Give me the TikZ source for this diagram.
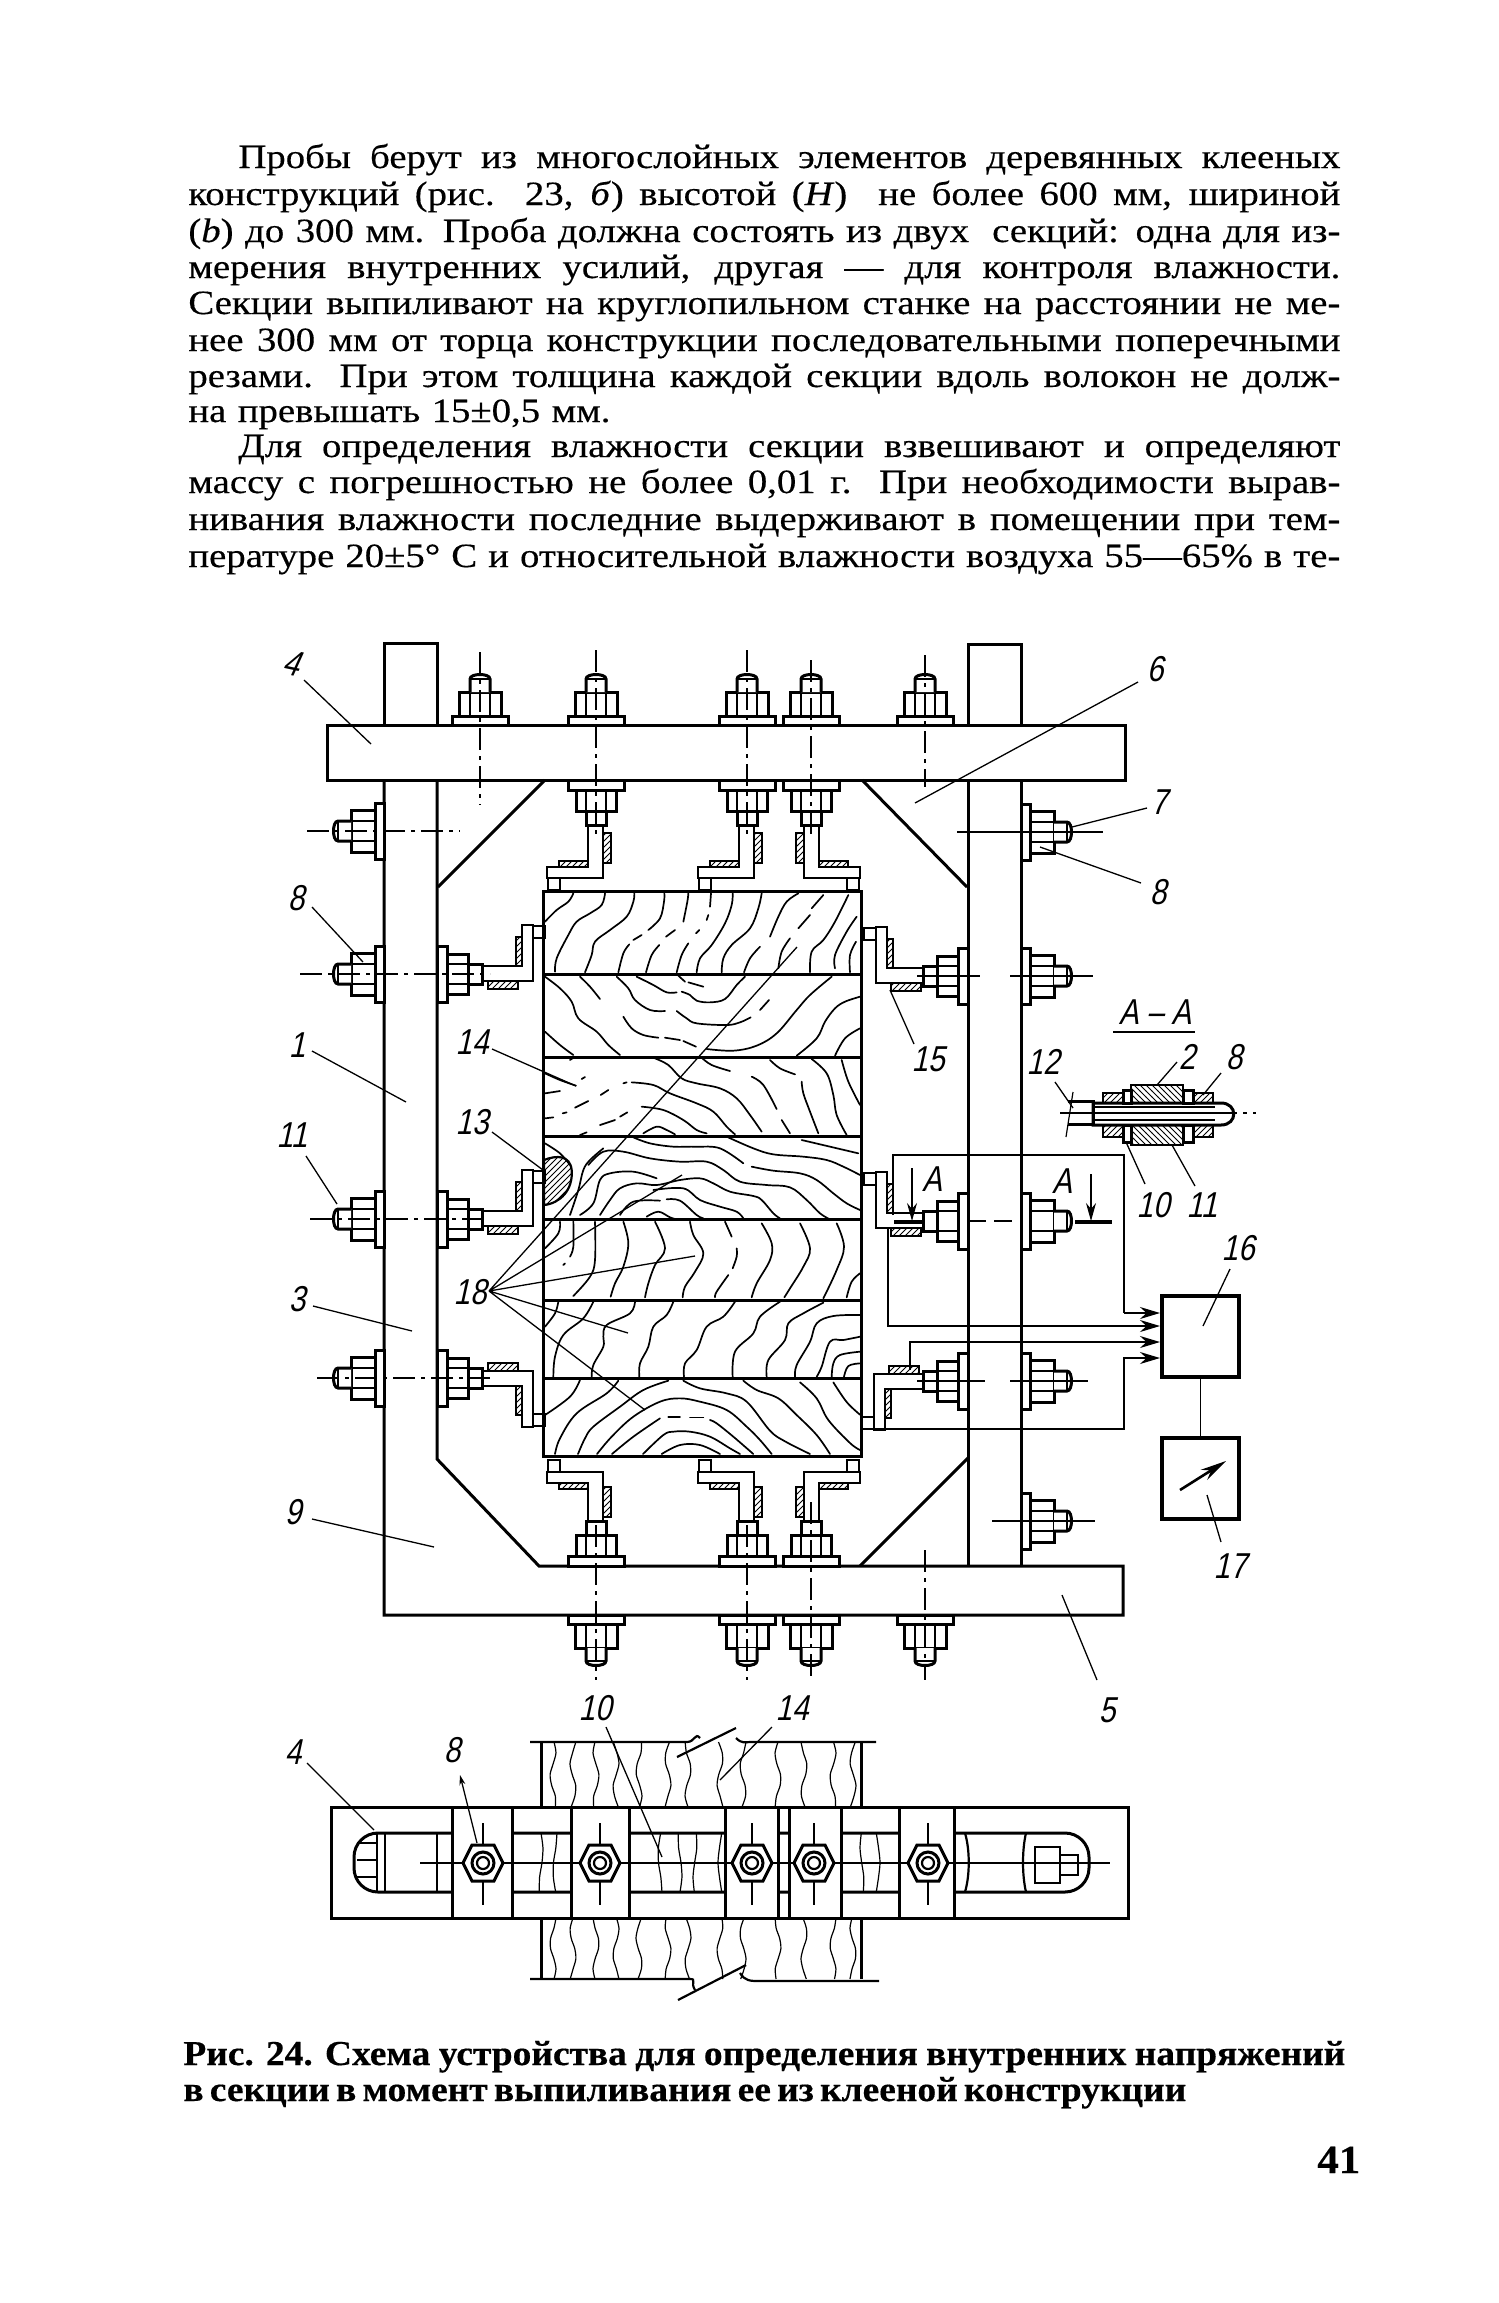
\documentclass[tikz,border=0pt]{standalone}
\usepackage{fontspec}
\usetikzlibrary{arrows.meta,patterns}
\setmainfont{Liberation Serif}[FakeStretch=1.14,FakeBold=0.35]
\newfontfamily\labf{Liberation Sans}[FakeSlant=0.22,FakeStretch=0.82]
\newfontfamily\capf{Liberation Serif Bold}[FakeStretch=1.07,FakeBold=0.4]
\tikzset{
 main/.style={line width=1.5pt,line join=miter},
 med/.style={line width=1.1pt},
 wire/.style={line width=.8pt},
 thinl/.style={line width=.6pt},
 grain/.style={line width=.85pt,line cap=round},
 leader/.style={line width=.65pt},
 cl/.style={line width=.6pt,dash pattern=on 11pt off 3pt on 2pt off 3pt},
 gauge/.style={line width=.8pt,pattern=north east lines},
 hatch/.style={line width=1pt,pattern=north east lines},
 hatchb/.style={line width=1pt,pattern=north west lines},
 lab/.style={font=\labf\fontsize{18}{18}\selectfont,inner sep=0pt},
 txt/.style={font=\fontsize{17}{17}\selectfont,inner sep=0pt,anchor=base west},
 captxt/.style={font=\capf\fontsize{17.5}{17.5}\selectfont,inner sep=0pt,anchor=base west},
 pics/bolt/.style={code={
   \draw[main,fill=white] (0,-28) rectangle (9,28);
   \draw[main,fill=white] (9,-21) rectangle (33,21);
   \draw[med] (9,-10)--(33,-10) (9,10)--(33,10);
   \draw[main,fill=white] (33,-10)--(46,-10) .. controls (52,-10) and (52,10) .. (46,10)--(33,10);
   \draw[thinl] (46,-10)--(46,10);
 }},
 pics/nutb/.style={code={
   \draw[main,fill=white] (0,-28) rectangle (10,28);
   \draw[main,fill=white] (10,-20) rectangle (31,20);
   \draw[med] (10,-10)--(31,-10) (10,10)--(31,10);
   \draw[main,fill=white] (31,-10) rectangle (45,10);
 }},
 pics/hexn/.style={code={
   \draw[thinl] (0,-40)--(0,42);
   \draw[main,fill=white] (-20,0)--(-11,-18)--(11,-18)--(20,0)--(11,18)--(-11,18)--cycle;
   \draw[main] (0,0) circle[radius=11];
   \draw[med] (0,0) circle[radius=6];
 }}
}
\newcommand{\gr}[1]{\draw[grain] plot[smooth,tension=0.6] coordinates {#1};}
\newcommand{\tline}[5]{\node[txt] (#1) at (#2,#3) {\makebox[#4pt][s]{#5}};}
\newcommand{\capline}[5]{\node[captxt] (#1) at (#2,#3) {\makebox[#4pt][s]{#5}};}
\newcommand{\brk}[3]{\begin{scope}[shift={#1},x={#2},y={#3}]
 \draw[med] (-8,-4)--(-8,40)--(-49,40)--(-49,51)--(7,51)--(7,-4);
 \draw[thinl] (-48,51) rectangle (-36,63);
 \draw[gauge] (-37,34) rectangle (-8,40);
 \draw[gauge] (7,6) rectangle (15,36);
\end{scope}}
\begin{document}
\begin{tikzpicture}[x=.5pt,y=-.5pt]
\fill[white] (0,0) rectangle (1499,2303);
\useasboundingbox (0,0) rectangle (1499,2303);
% ---- text
\tline{t1}{238}{168}{551}{Пробы берут из многослойных элементов деревянных клееных}
\tline{t2}{188}{205}{576}{конструкций (рис. 23, \textit{б}) высотой (\textit{Н})\ \ не более 600 мм, шириной}
\tline{t3}{188}{242}{576}{(\textit{b}) до 300 мм. Проба должна состоять из двух\ \ секций: одна для из-}
\tline{t4}{188}{278}{576}{мерения внутренних усилий, другая — для контроля влажности.}
\tline{t5}{188}{314}{576}{Секции выпиливают на круглопильном станке на расстоянии не ме-}
\tline{t6}{188}{351}{576}{нее 300 мм от торца конструкции последовательными поперечными}
\tline{t7}{188}{387}{576}{резами. При этом толщина каждой секции вдоль волокон не долж-}
\tline{t8}{188}{422}{211}{на превышать 15±0,5 мм.}
\tline{t9}{238}{457}{551}{Для определения влажности секции взвешивают и определяют}
\tline{t10}{188}{493}{576}{массу с погрешностью не более 0,01 г. При необходимости вырав-}
\tline{t11}{188}{530}{576}{нивания влажности последние выдерживают в помещении при тем-}
\tline{t12}{188}{567}{576}{пературе 20±5° С и относительной влажности воздуха 55—65\% в те-}
\capline{c1}{183}{2065}{581}{Рис. 24. Схема устройства для определения внутренних напряжений}
\capline{c2}{183}{2101}{501}{в секции в момент выпиливания ее из клееной конструкции}
\node[captxt,font=\capf\fontsize{20}{20}\selectfont] (pg) at (1317,2173) {41};
% ---- frame
\draw[main] (384,725)--(384,643)--(437,643)--(437,725);
\draw[main] (968,725)--(968,644)--(1021,644)--(1021,725);
\draw[main] (327,725) rectangle (1125,780);
\draw[main] (384,780)--(384,1615)--(1123,1615)--(1123,1566)--(539,1566)--(437,1459)--(437,780);
\draw[main] (968,780)--(968,1566) (1021,780)--(1021,1566);
\draw[main] (545,780)--(438,887) (862,780)--(967,887) (860,1566)--(968,1458);
% ---- wood
\draw[main] (543,891) rectangle (861,1456);
\draw[main] (543,974)--(861,974) (543,1057)--(861,1057) (543,1136)--(861,1136) (543,1219)--(861,1219) (543,1300)--(861,1300) (543,1378)--(861,1378);
\begin{scope}[shift={(540,885)},x=.16667pt,y=-.16667pt]
\gr{(15,110)(50,75)(85,50)(100,25)}
\gr{(45,260)(50,220)(85,150)(110,110)(150,85)(185,60)(195,25)}
\gr{(135,262)(155,210)(165,170)(210,135)(260,95)(280,50)(283,25)}
\gr{(235,262)(250,205)(268,178)} \gr{(280,165)(305,150)} \gr{(325,135)(360,100)(372,50)(373,25)}
\gr{(318,262)(335,210)(358,180)} \gr{(378,155)(405,135)} \gr{(430,110)(442,50)(445,25)}
\gr{(410,262)(425,210)(445,175)} \gr{(468,145)(478,135)} \gr{(500,105)(505,90)} \gr{(510,65)(513,25)}
\gr{(470,262)(480,220)(515,180)(555,115)(575,60)(578,25)}
\gr{(545,262)(550,220)(575,180)(630,130)(655,70)(665,25)}
\gr{(612,262)(630,220)(660,185)} \gr{(690,155)(715,95)(740,50)(775,25)}
\gr{(715,250)(725,200)(750,160)} \gr{(775,130)(810,90)} \gr{(815,70)(850,30)}
\gr{(810,262)(815,200)(850,165)(885,110)(925,30)}
\gr{(885,250)(885,210)(920,140)(950,95)}
\gr{(930,262)(930,210)(948,170)}
\gr{(15,275)(60,310)(95,350)(115,400)(170,440)(205,480)(240,510)}
\gr{(120,275)(150,305)(180,342)}
\gr{(230,275)(265,310)(285,345)(330,375)(375,378)}
\gr{(410,378)(440,400)(470,415)(560,420)(600,412)(632,397)} \gr{(660,375)(687,345)}
\gr{(290,275)(340,300)(380,322)(410,322)}
\gr{(425,320)(450,330)(470,347)(510,352)(555,342)(590,300)(615,275)}
\gr{(415,272)(435,290)} \gr{(445,292)(490,305)}
\gr{(250,395)(275,430)(310,450)(355,458)} \gr{(375,458)(420,465)} \gr{(430,468)(468,485)}
\gr{(500,492)(580,497)(650,482)(710,445)(770,375)(810,330)(875,275)}
\gr{(15,440)(60,480)(100,510)}
\gr{(770,512)(830,460)(855,410)(885,370)(915,350)(960,335)}
\gr{(885,512)(915,460)(960,430)}
\gr{(345,520)(385,540)(425,580)(470,595)(540,610)(590,640)(630,690)(665,740)}
\gr{(485,518)(515,540)(570,558)}
\gr{(690,525)(720,550)(765,568)} \gr{(785,590)(790,625)(810,680)(835,745)}
\gr{(815,522)(860,565)(880,630)(890,690)(920,750)}
\gr{(905,525)(925,590)(960,660)}
\gr{(635,575)(670,600)(710,672)}
\gr{(725,705)(750,745)}
\gr{(250,595)(260,592)} \gr{(275,592)(340,600)(390,625)(470,655)(520,680)(560,725)(585,748)}
\gr{(305,665)(370,675)(430,705)(470,735)(500,745)}
\gr{(310,745)(350,725)(380,735)(405,748)}
\gr{(15,565)(60,585)(108,602)} \gr{(125,582)(135,576)} \gr{(15,625)(60,618)}
\gr{(105,668)(145,648)} \gr{(182,630)(205,615)} \gr{(15,700)(40,697)} \gr{(68,685)(80,682)}
\gr{(180,720)(225,705)} \gr{(240,695)(262,682)} \gr{(90,525)(105,515)} \gr{(120,750)(140,742)}
\end{scope}
\begin{scope}[shift={(540,1160)},x=.16667pt,y=-.16667pt]
\gr{(280,-68)(330,-50)(400,-40)(470,-40)(540,-35)(610,10)}
\gr{(560,-70)(640,-35)(700,-17)(790,-10)(860,0)(910,20)(960,45)}
\gr{(785,-60)(870,-40)(955,-20)}
\gr{(145,15)(190,-25)(250,-25)(330,-5)(420,5)(500,5)(550,30)(600,65)(680,75)(750,82)(800,120)(840,160)(870,178)}
\gr{(635,20)(700,32)(780,40)(830,60)(880,100)(920,130)(960,150)}
\gr{(90,165)(115,90)(130,30)(150,0)(190,-35)}
\gr{(120,165)(160,130)(180,60)(210,40)(280,35)(350,55)}
\gr{(180,165)(210,120)(240,85)(290,70)(350,75)(420,60)(480,55)(520,70)(570,95)(640,108)(665,120)(700,160)(720,175)}
\gr{(240,165)(280,125)(360,122)} \gr{(380,118)(420,122)(470,165)(490,175)}
\gr{(340,90)(430,85)(480,120)(540,140)(590,155)(610,175)}
\gr{(320,170)(355,155)(390,172)(410,178)}
\gr{(15,-50)(60,-20)(90,15)}
\gr{(250,185)(265,250)(250,320)(225,370)(212,410)}
\gr{(345,185)(375,265)(345,315)(325,370)(315,412)}
\gr{(450,185)(460,225)(490,280)(465,335)(435,380)(428,412)}
\gr{(555,185)(575,230)} \gr{(590,265)(590,290)(578,325)} \gr{(565,345)(530,395)(525,412)}
\gr{(665,190)(695,250)(690,300)(650,370)(635,412)}
\gr{(780,190)(810,265)(790,320)(750,385)(733,412)}
\gr{(890,190)(912,260)(890,330)(850,415)}
\gr{(920,412)(935,365)(960,340)}
\gr{(165,185)(165,300)(150,350)(100,408)}
\gr{(100,185)(100,260)(90,290)} \gr{(70,315)(75,310)}
\gr{(60,185)(55,220)(15,265)}
\gr{(400,425)(380,465)(340,500)(325,560)(300,610)(298,650)}
\gr{(585,425)(550,470)(500,500)(470,570)(435,610)(432,650)}
\gr{(720,425)(660,470)(640,520)(585,575)(578,650)}
\gr{(850,428)(790,460)(745,490)(735,540)(685,600)(680,650)}
\gr{(960,465)(880,468)(830,490)(810,545)(770,615)(765,650)}
\gr{(960,530)(910,540)(870,545)(845,620)(830,650)}
\gr{(960,575)(900,585)(880,610)(875,650)}
\gr{(960,610)(925,618)(912,650)}
\gr{(285,425)(270,460)(200,495)(190,530)(190,560)(160,615)(155,650)}
\gr{(160,425)(130,475)(70,525)(45,590)(40,650)}
\gr{(55,425)(45,460)(15,500)}
\gr{(120,660)(90,710)(15,765)}
\gr{(235,662)(200,700)(110,760)(60,835)(45,882)}
\gr{(385,662)(310,690)(240,740)(160,800)(135,835)(114,882)}
\gr{(610,662)(650,690)(715,715)(770,765)(830,825)(870,882)}
\gr{(430,662)(480,685)(560,700)(620,725)(690,812)(735,844)(810,882)}
\gr{(780,667)(830,715)(865,780)(930,849)(960,870)}
\gr{(880,667)(920,726)(960,764)}
\gr{(171,882)(215,830)(280,770)(360,725)(420,715)(480,725)(560,750)(620,800)(660,840)(695,882)}
\gr{(216,882)(280,830)(360,775)} \gr{(385,770)(420,770)} \gr{(450,772)(490,772)} \gr{(510,780)(530,790)(580,830)(640,882)}
\gr{(309,882)(370,825)(400,815)(450,815)(510,830)(570,865)(600,882)}
\gr{(365,882)(420,855)(480,855)(540,882)}
% hatched oval 13
\draw[hatch,line width=1.1pt] (12,0) .. controls (50,-15) and (90,-15) .. (95,30) .. controls (100,90) and (60,130) .. (12,135) -- cycle;
\end{scope}
% ---- brackets
\brk{(596,827)}{(.5pt,0pt)}{(0pt,-.5pt)}
\brk{(747,827)}{(.5pt,0pt)}{(0pt,-.5pt)}
\brk{(811,827)}{(-.5pt,0pt)}{(0pt,-.5pt)}
\brk{(482,974)}{(0pt,-.5pt)}{(.5pt,0pt)}
\brk{(482,1219)}{(0pt,-.5pt)}{(.5pt,0pt)}
\brk{(482,1378)}{(0pt,.5pt)}{(.5pt,0pt)}
\brk{(927,976)}{(0pt,-.5pt)}{(-.5pt,0pt)}
\brk{(927,1221)}{(0pt,-.5pt)}{(-.5pt,0pt)}
\brk{(925,1381)}{(0pt,.5pt)}{(-.5pt,0pt)}
\brk{(596,1523)}{(.5pt,0pt)}{(0pt,.5pt)}
\brk{(747,1523)}{(.5pt,0pt)}{(0pt,.5pt)}
\brk{(811,1523)}{(-.5pt,0pt)}{(0pt,.5pt)}
% ---- bolts
\foreach \bx in {480,596,747,811,925} \pic[rotate=90] at (\bx,725) {bolt};
\foreach \bx in {596,747,811} \pic[rotate=-90] at (\bx,780) {nutb};
\foreach \bx in {596,747,811} \pic[rotate=90] at (\bx,1566) {nutb};
\foreach \bx in {596,747,811,925} \pic[rotate=-90] at (\bx,1615) {bolt};
\foreach \by in {831,974,1219,1378} \pic[rotate=180] at (384,\by) {bolt};
\foreach \by in {974,1219,1378} \pic at (437,\by) {nutb};
\foreach \by in {976,1221,1381} \pic[rotate=180] at (968,\by) {nutb};
\foreach \by in {832,976,1221,1381,1521} \pic at (1021,\by) {bolt};
% ---- centre lines
\draw[cl] (480,652)--(480,805) (596,650)--(596,840) (747,650)--(747,840) (811,660)--(811,835) (925,655)--(925,787);
\draw[cl] (596,1525)--(596,1680) (747,1525)--(747,1680) (811,1502)--(811,1680) (925,1550)--(925,1680);
\draw[cl] (307,831)--(460,831) (300,974)--(490,974) (310,1219)--(490,1219) (317,1378)--(490,1378);
\draw[thinl] (957,832)--(1103,832) (917,976)--(980,976) (1010,976)--(1093,976) (917,1381)--(985,1381) (1010,1381)--(1088,1381) (992,1521)--(1095,1521);
\draw[med,dash pattern=on 9pt off 4pt] (968,1221)--(1021,1221);
% ---- wires and boxes
\draw[wire] (893,1215)--(893,1155)--(1124,1155)--(1124,1313);
\draw[wire,-{Stealth[length=10pt,width=6pt]}] (1124,1313)--(1160,1313);
\draw[wire,-{Stealth[length=10pt,width=6pt]}] (888,1229)--(888,1326)--(1160,1326);
\draw[wire,-{Stealth[length=10pt,width=6pt]}] (910,1370)--(910,1342)--(1160,1342);
\draw[wire,-{Stealth[length=10pt,width=6pt]}] (863,1429)--(1124,1429)--(1124,1358)--(1160,1358);
\node[draw,line width=2pt,minimum width=38.5pt,minimum height=40.5pt,inner sep=0pt,anchor=north west] (b16) at (1160,1294) {};
\node[draw,line width=2pt,minimum width=38.5pt,minimum height=40.5pt,inner sep=0pt,anchor=north west] (b17) at (1160,1436) {};
\draw[wire] (b16)--(b17);
\draw[line width=1.3pt,-{Stealth[length=13pt,width=6pt]}] (1180,1490)--(1226,1461);
% ---- A-A marks
\draw[line width=1.8pt] (894,1222)--(923,1222) (1075,1222)--(1112,1222);
\draw[thinl,-{Stealth[length=9pt,width=5pt]}] (912,1168)--(912,1221);
\draw[thinl,-{Stealth[length=9pt,width=5pt]}] (1091,1174)--(1091,1221);
% ---- section A-A
\draw[main,fill=white] (1093,1103)--(1221,1103) .. controls (1238,1103) and (1238,1125) .. (1221,1125)--(1093,1125)--cycle;
\draw[main] (1068,1101)--(1093,1101)--(1093,1124)--(1068,1124);
\draw[thinl] (1060,1113)--(1215,1113) (1093,1107)--(1215,1107) (1093,1120)--(1215,1120);
\draw[cl] (1215,1113)--(1256,1113);
\draw[hatchb] (1131,1085) rectangle (1183,1103) (1131,1125) rectangle (1183,1145);
\draw[main,fill=white] (1123,1090) rectangle (1131,1103) (1183,1090) rectangle (1193,1103) (1123,1125) rectangle (1131,1142) (1183,1125) rectangle (1193,1142);
\draw[hatch] (1103,1093) rectangle (1123,1103) (1193,1093) rectangle (1213,1103) (1103,1125) rectangle (1123,1137) (1193,1125) rectangle (1213,1137);
\draw[thinl] (1073,1092)--(1066,1137);
% ---- leaders
\draw[leader] (304,680)--(371,744) (312,907)--(363,962) (312,1051)--(406,1102) (492,1049)--(576,1086) (492,1132)--(543,1170) (306,1156)--(337,1204) (313,1306)--(412,1331) (312,1519)--(434,1547);
\draw[leader] (1138,682)--(915,803) (1147,808)--(1072,827) (1141,883)--(1040,847) (914,1044)--(890,990);
\draw[leader] (1055,1082)--(1073,1108) (1177,1062)--(1157,1085) (1221,1073)--(1203,1095) (1126,1142)--(1145,1184) (1172,1145)--(1195,1186);
\draw[leader] (1230,1269)--(1203,1326) (1207,1495)--(1221,1542) (1062,1595)--(1097,1680);
\draw[leader] (489,1291)--(797,947) (489,1291)--(682,1175) (489,1291)--(695,1256) (489,1291)--(628,1333) (489,1291)--(645,1410);
\draw[med] (1113,1032)--(1195,1032);
% ---- labels
\node[lab,rotate=-12] (n4) at (292,663) {4};
\node[lab] (n8a) at (296,898) {8};
\node[lab] (n1) at (297,1045) {1};
\node[lab] (n14) at (472,1042) {14};
\node[lab] (n13) at (472,1122) {13};
\node[lab] (n11) at (292,1135) {11};
\node[lab] (n18) at (470,1292) {18};
\node[lab] (n3) at (297,1299) {3};
\node[lab] (n9) at (293,1512) {9};
\node[lab] (n6) at (1155,669) {6};
\node[lab] (n7) at (1159,802) {7};
\node[lab] (n8b) at (1158,892) {8};
\node[lab] (n15) at (928,1059) {15};
\node[lab] (nAA) at (1155,1012) {A – A};
\node[lab] (n12) at (1043,1062) {12};
\node[lab] (n2) at (1187,1057) {2};
\node[lab] (n8c) at (1234,1057) {8};
\node[lab] (n10) at (1153,1205) {10};
\node[lab] (n11b) at (1202,1205) {11};
\node[lab] (nA1) at (932,1179) {A};
\node[lab] (nA2) at (1062,1181) {A};
\node[lab] (n16) at (1238,1248) {16};
\node[lab] (n17) at (1230,1566) {17};
\node[lab] (n5) at (1107,1710) {5};
% ---- lower view
\draw[main] (541,1742)--(541,1807) (861,1742)--(861,1807) (541,1918)--(541,1979) (861,1918)--(861,1979);
\draw[med] (530,1742)--(687,1742) .. controls (695,1742) and (695,1732) .. (700,1738) (736,1738) .. controls (742,1744) and (745,1742) .. (750,1742)--(876,1742);
\draw[med] (530,1979)--(690,1979) .. controls (697,1979) and (690,1982) .. (695,1990) (740,1973) .. controls (745,1981) and (750,1981) .. (760,1981)--(879,1981);
\foreach \gx/\gp in {553/20,573/110,596/200,616/300,639/60,668/150,688/250,720/330,743/90,778/180,804/270,833/10,853/130} {
  \draw[thinl] plot[smooth,samples=7,domain=0:1,variable=\t] ({\gx+3*sin(470*\t+\gp)},{1742+65*\t});
  \draw[thinl] plot[smooth,samples=7,domain=0:1,variable=\t] ({\gx+3*sin(430*\t+\gp+70)},{1918+61*\t});
}
\draw[main,fill=white] (331,1807) rectangle (1128,1918);
\draw[main,rounded corners=12pt] (354,1833) rectangle (1089,1892);
\foreach \gx/\gp in {541/0,555/80,660/160,680/240,695/40,720/120,862/200,878/300} \draw[thinl] plot[smooth,samples=5,domain=0:1,variable=\t] ({\gx+2*sin(300*\t+\gp)},{1833+59*\t});
\draw[med] (377,1833)--(377,1892) (385,1833)--(385,1892) (357,1843)--(377,1843) (357,1860)--(377,1860) (357,1877)--(377,1877) (437,1833)--(437,1892);
\draw[med] (965,1833) .. controls (970,1850) and (970,1875) .. (965,1892) (1026,1833) .. controls (1022,1850) and (1022,1875) .. (1026,1892);
\draw[med] (1035,1847) rectangle (1060,1883) (1060,1855) rectangle (1078,1875);
\foreach \xa/\xb in {452/512,571/629,725/778,789/841,899/954} {
  \fill[white] (\xa,1809) rectangle (\xb,1916);
  \draw[main] (\xa,1807)--(\xa,1918) (\xb,1807)--(\xb,1918);
}
\draw[thinl] (420,1863)--(1110,1863);
\foreach \hx in {483,600,752,814,928} \pic at (\hx,1863) {hexn};
\draw[leader] (307,1763)--(374,1830);
\draw[leader,{Stealth[length=5pt,width=3pt]}-] (460,1775)--(477,1843);
\draw[leader] (606,1727)--(662,1857);
\draw[leader] (772,1727)--(720,1780);
\draw[med] (677,1757)--(736,1728) (678,2000)--(746,1965);
\node[lab] (n4b) at (293,1752) {4};
\node[lab] (n8d) at (452,1750) {8};
\node[lab] (n10b) at (595,1708) {10};
\node[lab] (n14b) at (792,1708) {14};
\end{tikzpicture}
\end{document}
